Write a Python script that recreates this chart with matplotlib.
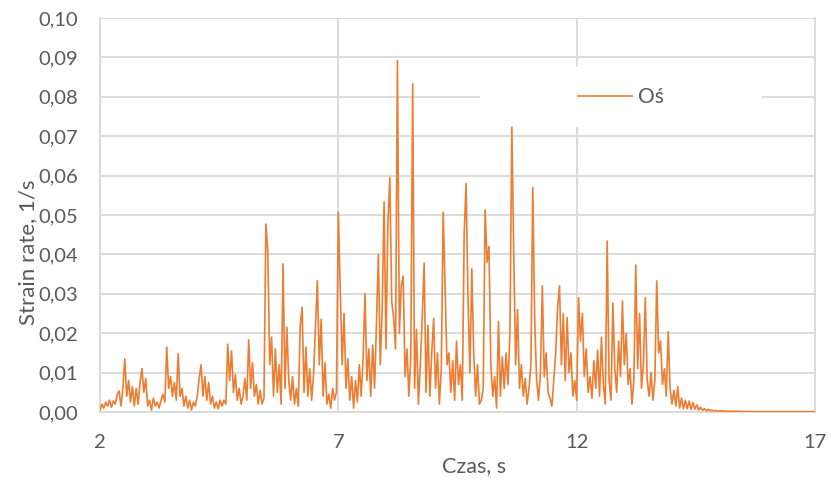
import numpy as np
import matplotlib
matplotlib.use("Agg")
import matplotlib.pyplot as plt
from matplotlib.patches import Rectangle

# ---- data ----
t_start = 2.0
dt = 0.04
strain_rate = [
    # 2.00 - 2.96 s
    0.0005, 0.002, 0.001, 0.0025, 0.0015, 0.003, 0.0012, 0.0028, 0.002, 0.0045,
    0.0053, 0.0015, 0.006, 0.0135, 0.004, 0.008, 0.0025, 0.0065, 0.0015, 0.006,
    0.002, 0.0075, 0.011, 0.005, 0.0085,
    # 3.00 - 3.96 s
    0.0015, 0.003, 0.0005, 0.0035, 0.0015, 0.0025, 0.001, 0.003, 0.0045, 0.0025,
    0.0165, 0.006, 0.009, 0.004, 0.0075, 0.003, 0.0148, 0.004, 0.006, 0.0015,
    0.004, 0.001, 0.003, 0.0005, 0.0025,
    # 4.00 - 4.96 s
    0.0015, 0.004, 0.0085, 0.012, 0.004, 0.009, 0.003, 0.0075, 0.002, 0.004,
    0.001, 0.0025, 0.0008, 0.003, 0.0015, 0.003, 0.002, 0.0172, 0.008, 0.0155,
    0.005, 0.0095, 0.003, 0.006, 0.002,
    # 5.00 - 5.96 s
    0.004, 0.0085, 0.003, 0.0183, 0.006, 0.0125, 0.004, 0.007, 0.002, 0.0055,
    0.002, 0.0035, 0.0477, 0.0406, 0.012, 0.019, 0.004, 0.016, 0.005, 0.012,
    0.002, 0.0376, 0.006, 0.0215, 0.008,
    # 6.00 - 6.96 s
    0.003, 0.009, 0.002, 0.006, 0.0015, 0.0217, 0.0266, 0.005, 0.0165, 0.004,
    0.011, 0.003, 0.0095, 0.0215, 0.0333, 0.012, 0.0235, 0.004, 0.0125, 0.002,
    0.0045, 0.001, 0.006, 0.003, 0.005,
    # 7.00 - 7.96 s
    0.0507, 0.0314, 0.012, 0.025, 0.006, 0.0135, 0.003, 0.009, 0.001, 0.008,
    0.0025, 0.012, 0.004, 0.014, 0.030, 0.008, 0.016, 0.004, 0.017, 0.006,
    0.0225, 0.040, 0.012, 0.026, 0.0533,
    # 8.00 - 8.96 s
    0.016, 0.048, 0.0595, 0.028, 0.024, 0.016, 0.0892, 0.02, 0.032, 0.0345,
    0.009, 0.016, 0.004, 0.014, 0.0833, 0.006, 0.021, 0.002, 0.012, 0.024,
    0.0378, 0.005, 0.022, 0.004, 0.015,
    # 9.00 - 9.96 s
    0.0238, 0.006, 0.015, 0.002, 0.011, 0.0507, 0.0317, 0.012, 0.015, 0.005,
    0.013, 0.003, 0.018, 0.007, 0.012, 0.003, 0.045, 0.058, 0.029, 0.01,
    0.0363, 0.015, 0.004, 0.012, 0.002,
    # 10.00 - 10.96 s
    0.003, 0.006, 0.0513, 0.038, 0.042, 0.012, 0.004, 0.009, 0.001, 0.023,
    0.004, 0.014, 0.006, 0.015, 0.007, 0.02, 0.0723, 0.0405, 0.012, 0.026,
    0.006, 0.012, 0.004, 0.0085, 0.002,
    # 11.00 - 11.96 s
    0.006, 0.012, 0.057, 0.023, 0.008, 0.003, 0.01, 0.032, 0.009, 0.015,
    0.005, 0.0035, 0.0015, 0.008, 0.015, 0.0267, 0.032, 0.012, 0.025, 0.008,
    0.024, 0.01, 0.015, 0.004, 0.008,
    # 12.00 - 12.96 s
    0.003, 0.029, 0.018, 0.025, 0.009, 0.016, 0.005, 0.009, 0.0035, 0.013,
    0.006, 0.0157, 0.004, 0.019, 0.007, 0.002, 0.0434, 0.008, 0.003, 0.0277,
    0.011, 0.005, 0.018, 0.009, 0.0282,
    # 13.00 - 13.96 s
    0.012, 0.02, 0.007, 0.011, 0.002, 0.008, 0.0373, 0.011, 0.025, 0.006,
    0.012, 0.029, 0.008, 0.004, 0.01, 0.003, 0.008, 0.0333, 0.015, 0.018,
    0.007, 0.011, 0.004, 0.0204, 0.006,
    # 14.00 - 14.96 s
    0.002, 0.0055, 0.0015, 0.0064, 0.001, 0.0035, 0.0008, 0.003, 0.0008, 0.0028,
    0.0006, 0.0024, 0.0007, 0.0018, 0.0005, 0.0012, 0.0004, 0.0009, 0.0003, 0.0007,
    0.0003, 0.0005, 0.0002, 0.0004, 0.0002,
    # 15.00 - 15.96 s
    0.0003, 0.0002, 0.0003, 0.0002, 0.0002, 0.0002, 0.00015, 0.0002, 0.00015, 0.0002,
    0.00015, 0.00015, 0.0001, 0.00015, 0.0001, 0.0001, 0.0001, 0.0001, 0.0001, 0.0001,
    0.0001, 0.0001, 0.0001, 0.0001, 0.0001,
    # 16.00 - 17.00 s
    0.0001, 0.0001, 0.0001, 0.0001, 0.0001, 0.0001, 0.0001, 0.0001, 0.0001, 0.0001,
    0.0001, 0.0001, 0.0001, 0.0001, 0.0001, 0.0001, 0.0001, 0.0001, 0.0001, 0.0001,
    0.0001, 0.0001, 0.0001, 0.0001, 0.0001, 0.0001,
]
series_name = "Oś"
x_ticks = [2, 7, 12, 17]
y_ticks = [0.00, 0.01, 0.02, 0.03, 0.04, 0.05, 0.06, 0.07, 0.08, 0.09, 0.10]
x_label = "Czas, s"
y_label = "Strain rate, 1/s"

time = t_start + dt * np.arange(len(strain_rate))

# ---- figure ----
plt.rcParams['font.family'] = ['Lato', 'DejaVu Sans']
W, H = 831, 484
fig = plt.figure(figsize=(W / 100, H / 100), dpi=100)
ax = fig.add_axes([100 / W, 1 - 412 / H, 715 / W, 394 / H])

grid_c = "#D9D9D9"
text_c = "#595959"
line_c = "#ED7D31"

ax.plot(time, strain_rate, color=line_c, lw=1.2, zorder=3)

ax.set_xlim(2, 17)
ax.set_ylim(0, 0.10)
ax.set_xticks(x_ticks)
ax.set_yticks(y_ticks)
ax.set_yticklabels([f"{v:.2f}".replace(".", ",") for v in y_ticks])
ax.set_xticklabels([str(v) for v in x_ticks])
ax.tick_params(axis='both', length=0, labelsize=14.5, labelcolor=text_c)
ax.tick_params(axis='y', pad=16)
ax.tick_params(axis='x', pad=16)

ax.set_axisbelow(True)
ax.grid(True, color=grid_c, lw=1.3)
for s in ax.spines.values():
    s.set_color(grid_c)
    s.set_linewidth(1.3)
ax.spines['top'].set_visible(False)

# axis titles
fig.text(474 / W, 1 - 466 / H, x_label, ha='center', va='center',
         fontsize=15.5, color=text_c)
fig.text(28 / W, 1 - 252 / H, y_label, ha='center', va='center',
         rotation=90, fontsize=16, color=text_c)

# legend with white box
ax.add_patch(Rectangle(((480 - 100) / 715, (412 - 127) / 394), 282 / 715, 60 / 394,
                       transform=ax.transAxes, facecolor='white', edgecolor='none',
                       zorder=1.5))
leg = ax.legend([series_name], loc='center', bbox_to_anchor=((621 - 100) / 715, (412 - 97) / 394),
                frameon=False, fontsize=15, handlelength=2.6, handletextpad=0.3,
                labelcolor=text_c)

fig.savefig("out.png", dpi=100)
